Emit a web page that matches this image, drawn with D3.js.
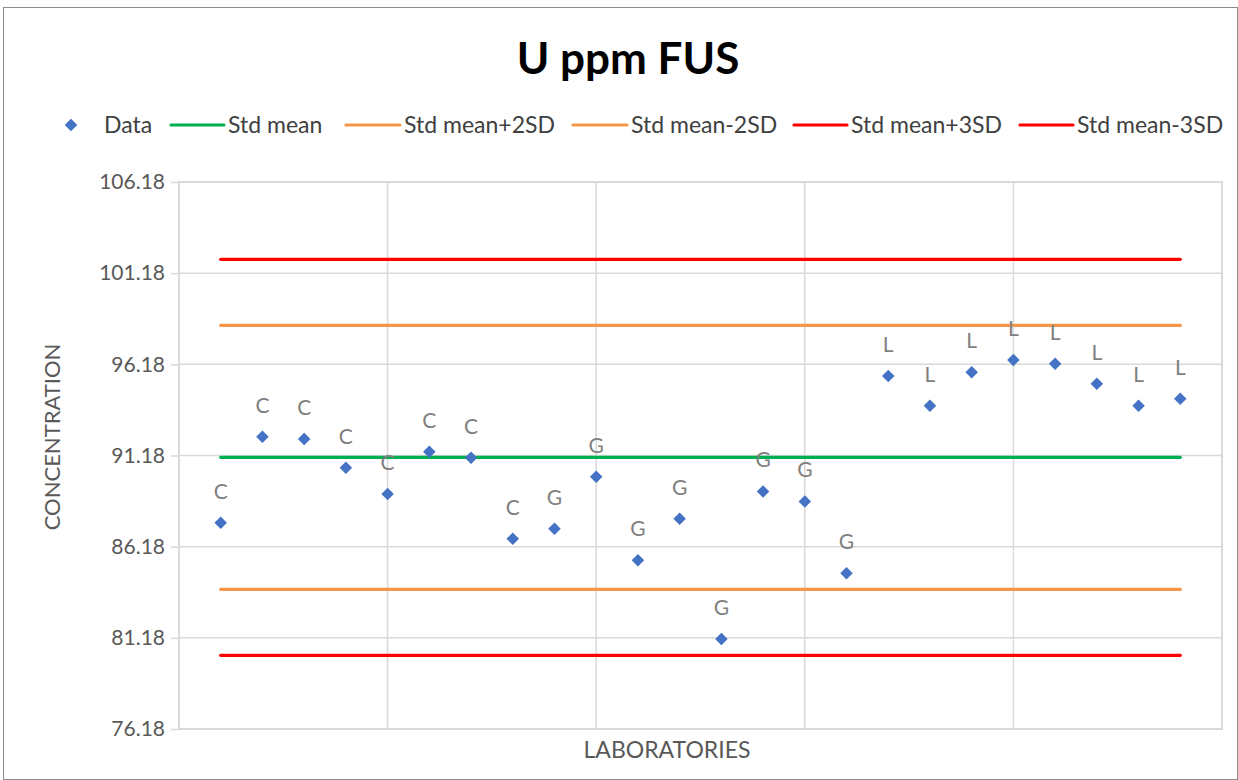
<!DOCTYPE html>
<html>
<head>
<meta charset="utf-8">
<script src="https://cdn.jsdelivr.net/npm/d3@7"></script>
<style>
  body { margin: 0; background: #fff; }
  text { font-family: Lato, "Open Sans", sans-serif; }
</style>
</head>
<body>
<div id="chart"></div>
<script>
// lab index on the x axis
var labs = d3.range(1, 25);
// lab group shown above each point
var groups = ["C","C","C","C","C","C","C","C",
              "G","G","G","G","G","G","G","G",
              "L","L","L","L","L","L","L","L"];
// U ppm FUS results
var values = [87.49, 92.21, 92.08, 90.51, 89.07, 91.39, 91.06, 86.61,
              87.16, 90.01, 85.44, 87.71, 81.11, 89.21, 88.66, 84.72,
              95.54, 93.91, 95.74, 96.42, 96.21, 95.12, 93.91, 94.29];

var stdMean = 91.08;
var stdSD = 3.62;
var yTicks = [76.18, 81.18, 86.18, 91.18, 96.18, 101.18, 106.18];
var xGrid = [0, 5, 10, 15, 20, 25];

var refLines = [
    { name: "Std mean", k: 0, color: "#00b050" },
    { name: "Std mean+2SD", k: 2, color: "#f79646" },
    { name: "Std mean-2SD", k: -2, color: "#f79646" },
    { name: "Std mean+3SD", k: 3, color: "#ff0000" },
    { name: "Std mean-3SD", k: -3, color: "#ff0000" }
];

var W = 1238, H = 780;
var margin = { top: 182, right: 16, bottom: 51, left: 179 };
var width = W - margin.left - margin.right,
    height = H - margin.top - margin.bottom;

var svg = d3.select("#chart").append("svg")
    .attr("width", W)
    .attr("height", H);

// outer chart frame
svg.append("rect")
    .attr("x", 3.5).attr("y", 7.5)
    .attr("width", W - 4).attr("height", H - 8)
    .attr("fill", "#fff")
    .attr("stroke", "#8c8c8c");

svg.append("text")
    .attr("x", 628).attr("y", 74)
    .attr("text-anchor", "middle")
    .style("font-size", "44px")
    .style("font-weight", "bold")
    .attr("fill", "#000")
    .text("U ppm FUS");

var g = svg.append("g")
    .attr("transform", "translate(" + margin.left + "," + margin.top + ")");

var x = d3.scaleLinear().domain([0, 25]).range([0, width]);
var y = d3.scaleLinear().domain([76.18, 106.18]).range([height, 0]);

// gridlines
g.selectAll(".hgrid").data(yTicks).enter().append("line")
    .attr("x1", 0).attr("x2", width)
    .attr("y1", function (d) { return y(d); })
    .attr("y2", function (d) { return y(d); })
    .attr("stroke", "#d9d9d9").attr("stroke-width", 1.5);

g.selectAll(".vgrid").data(xGrid).enter().append("line")
    .attr("y1", 0).attr("y2", height)
    .attr("x1", function (d) { return x(d); })
    .attr("x2", function (d) { return x(d); })
    .attr("stroke", "#d9d9d9").attr("stroke-width", 1.5);

// plot border
g.append("rect")
    .attr("width", width).attr("height", height)
    .attr("fill", "none")
    .attr("stroke", "#d9d9d9").attr("stroke-width", 2);

// y axis
var yAxis = d3.axisLeft(y).tickValues(yTicks)
    .tickFormat(d3.format(".2f"))
    .tickSize(8).tickPadding(6);
var ya = g.append("g").call(yAxis);
ya.select(".domain").remove();
ya.selectAll(".tick line").attr("stroke", "#d9d9d9").attr("stroke-width", 1.5);
ya.selectAll(".tick text")
    .attr("fill", "#595959")
    .style("font-size", "21px")
    .style("font-family", "Lato, sans-serif");

// reference lines
refLines.forEach(function (r) {
    var v = stdMean + r.k * stdSD;
    g.append("path")
        .datum([labs[0], labs[labs.length - 1]])
        .attr("fill", "none")
        .attr("stroke", r.color)
        .attr("stroke-width", 3.2)
        .attr("stroke-linecap", "round")
        .attr("d", d3.line()
            .x(function (d) { return x(d); })
            .y(function () { return y(v); }));
});

// data points
var diamond = d3.symbol().type(d3.symbolDiamond2).size(100);
g.selectAll(".pt").data(values).enter().append("path")
    .attr("d", diamond)
    .attr("transform", function (d, i) {
        return "translate(" + x(labs[i]) + "," + y(d) + ")";
    })
    .attr("fill", "#4472c4");

g.selectAll(".lbl").data(values).enter().append("text")
    .attr("x", function (d, i) { return x(labs[i]); })
    .attr("y", function (d) { return y(d) - 24; })
    .attr("text-anchor", "middle")
    .attr("fill", "#7f7f7f")
    .style("font-size", "21px")
    .text(function (d, i) { return groups[i]; });

// axis titles
svg.append("text")
    .attr("transform", "translate(60,437) rotate(-90)")
    .attr("text-anchor", "middle")
    .attr("fill", "#595959")
    .style("font-size", "22px")
    .text("CONCENTRATION");

svg.append("text")
    .attr("x", 667).attr("y", 758)
    .attr("text-anchor", "middle")
    .attr("fill", "#595959")
    .style("font-size", "23px")
    .text("LABORATORIES");

// legend
var legY = 125;
var leg = svg.append("g");
leg.append("path")
    .attr("d", diamond)
    .attr("transform", "translate(71," + legY + ")")
    .attr("fill", "#4472c4");
leg.append("text")
    .attr("x", 104).attr("y", legY + 8)
    .attr("fill", "#404040").style("font-size", "23px")
    .text("Data");

var legX = [[171, 224], [346, 400], [573, 627], [794, 847], [1020, 1073]];
refLines.forEach(function (r, i) {
    leg.append("line")
        .attr("x1", legX[i][0]).attr("x2", legX[i][1])
        .attr("y1", legY).attr("y2", legY)
        .attr("stroke", r.color).attr("stroke-width", 3.2)
        .attr("stroke-linecap", "round");
    leg.append("text")
        .attr("x", legX[i][1] + 4).attr("y", legY + 8)
        .attr("fill", "#404040").style("font-size", "23px")
        .text(r.name);
});
</script>
</body>
</html>
